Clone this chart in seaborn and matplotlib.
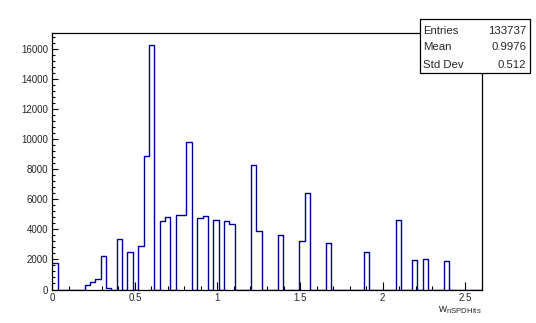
import numpy as np
import pandas as pd
import matplotlib
matplotlib.use("Agg")
import matplotlib.pyplot as plt
import seaborn as sns
from matplotlib.patches import Rectangle
from matplotlib.ticker import MultipleLocator

# ---- data ----
n_bins = 80
x_min, x_max = 0.0, 2.6
bin_index = [0, 6, 7, 8, 9, 10, 12, 14, 16, 17, 18, 20, 21, 23, 24, 25,
             27, 28, 30, 32, 33, 37, 38, 42, 46, 47, 51, 58, 64, 67, 69, 73]
counts = [1750, 280, 470, 670, 2200, 90, 3330, 2490, 2860, 8900, 16250,
          4525, 4790, 4940, 4940, 9770, 4720, 4875, 4610, 4525, 4325,
          8260, 3880, 3600, 3200, 6400, 3065, 2470, 4600, 1940, 2000, 1890]
stat_labels = ["Entries", "Mean", "Std Dev"]
stat_values = ["133737", "0.9976", "0.512"]
x_label = r"$\mathregular{w_{nSPDHits}}$"

width = (x_max - x_min) / n_bins
df = pd.DataFrame({"w": [x_min + (i + 0.5) * width for i in bin_index],
                   "count": counts})

sns.set_style("white")
plt.rcParams["font.family"] = ["Liberation Sans", "DejaVu Sans"]
plt.rcParams["mathtext.fontset"] = "custom"
plt.rcParams["mathtext.rm"] = "Liberation Sans"

W, H = 536, 323
fig = plt.figure(figsize=(W / 100, H / 100), dpi=100)
fig.patch.set_facecolor("white")
L, R, T, B = 52.3, 481.7, 32.7, 289.5
ax = fig.add_axes([L / W, (H - B) / H, (R - L) / W, (B - T) / H])

sns.histplot(data=df, x="w", weights="count", bins=n_bins,
             binrange=(x_min, x_max), element="step",
             fill=False, color="#000099", linewidth=1.0, ax=ax)

ymax = 1.05 * max(counts)
ax.set_xlim(x_min, x_max)
ax.set_ylim(0, ymax)
ax.set_ylabel("")
ax.set_xlabel(x_label, loc="right", fontsize=8, labelpad=1)

ax.xaxis.set_major_locator(MultipleLocator(0.5))
ax.xaxis.set_minor_locator(MultipleLocator(0.1))
ax.yaxis.set_major_locator(MultipleLocator(2000))
ax.yaxis.set_minor_locator(MultipleLocator(400))
ax.xaxis.set_major_formatter(matplotlib.ticker.FuncFormatter(lambda v, p: f"{v:g}"))
ax.tick_params(which="both", direction="in", bottom=True, left=True,
               top=False, right=False, labelsize=7, color="black", width=0.8)
ax.tick_params(axis="x", which="major", length=5.8, pad=2.5)
ax.tick_params(axis="x", which="minor", length=2.9)
ax.tick_params(axis="y", which="major", length=4.3, pad=3.0)
ax.tick_params(axis="y", which="minor", length=2.4)
for s in ax.spines.values():
    s.set_visible(True)
    s.set_color("black")
    s.set_linewidth(0.9)

# stats box
bx0, by0, bx1, by1 = 420, 19, 530, 73.3
fig.add_artist(Rectangle((bx0 / W, 1 - by1 / H), (bx1 - bx0) / W, (by1 - by0) / H,
                         transform=fig.transFigure, facecolor="white",
                         edgecolor="black", linewidth=0.9, zorder=10))
row_y = [30.5, 47.5, 65.0]
for lab, val, yy in zip(stat_labels, stat_values, row_y):
    fig.text(423.3 / W, 1 - yy / H, lab, ha="left", va="center", fontsize=8.2, zorder=11)
    fig.text(526.5 / W, 1 - yy / H, val, ha="right", va="center", fontsize=8.2, zorder=11)

fig.savefig("out.png", dpi=100, facecolor="white")
